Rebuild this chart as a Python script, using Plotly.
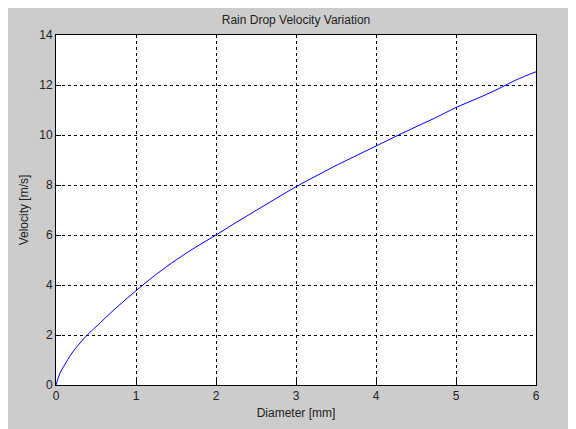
import plotly.graph_objects as go

# Data
diameter_mm = [0, 0.05, 0.1, 0.2, 0.3, 0.4, 0.5, 0.75, 1.0, 1.25, 1.5, 1.75, 2.0,
               2.25, 2.5, 2.75, 3.0, 3.25, 3.5, 3.75, 4.0, 4.25, 4.5, 4.75, 5.0,
               5.25, 5.5, 5.75, 6.0]
velocity_ms = [0, 0.48, 0.76, 1.28, 1.68, 2.03, 2.33, 3.08, 3.77, 4.42, 5.0, 5.52, 6.0,
               6.5, 6.98, 7.46, 7.93, 8.36, 8.78, 9.17, 9.56, 9.95, 10.33, 10.7, 11.1,
               11.44, 11.8, 12.2, 12.53]

x_ticks = [0, 1, 2, 3, 4, 5, 6]
y_ticks = [0, 2, 4, 6, 8, 10, 12, 14]

# page body has an 8px margin; figure is placed at (8, 8)
W, H = 568, 421
L, R, T, B = 48, 40, 27, 44

fig = go.Figure()
fig.add_trace(go.Scatter(x=diameter_mm, y=velocity_ms, mode="lines",
                         line=dict(color="#0000ff", width=1), showlegend=False,
                         line_shape="spline"))

font = dict(family="Liberation Sans, Arial, sans-serif", size=12, color="#222222")
axis_common = dict(showline=True, linecolor="black", linewidth=1, mirror=True,
                   ticks="inside", ticklen=5, tickcolor="black",
                   showgrid=True, gridcolor="black", gridwidth=1, griddash="3px,3px",
                   zeroline=False, tickfont=font)

fig.update_xaxes(range=[0, 6], tickvals=x_ticks, ticktext=[str(v) for v in x_ticks],
                 title=dict(text="Diameter [mm]", font=font, standoff=6), **axis_common)
fig.update_yaxes(range=[0, 14], tickvals=y_ticks, ticktext=[str(v) for v in y_ticks],
                 title=dict(text="Velocity [m/s]", font=font, standoff=8), **axis_common)

fig.update_layout(
    width=W, height=H,
    margin=dict(l=L, r=R, t=T, b=B),
    paper_bgcolor="#cccccc", plot_bgcolor="white",
    title=dict(text="Rain Drop Velocity Variation", font=font, x=0.5, xanchor="center",
               xref="paper", y=1 - 12 / H, yanchor="middle"),
    font=font,
)

fig.write_html("out.html")
